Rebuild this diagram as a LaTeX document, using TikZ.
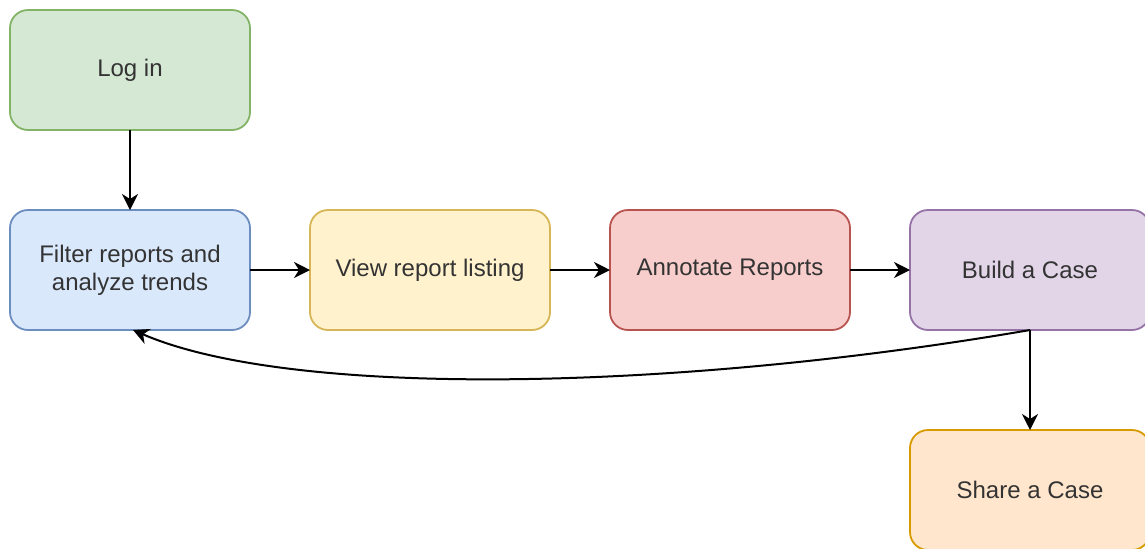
\documentclass[tikz,border=0pt]{standalone}
\usepackage{fontspec}
\setmainfont{Liberation Sans}
\usepackage{xcolor}
\usetikzlibrary{arrows.meta,positioning}

\definecolor{greenfill}{HTML}{D5E8D4}\definecolor{greenline}{HTML}{82B366}
\definecolor{bluefill}{HTML}{DAE8FC}\definecolor{blueline}{HTML}{6C8EBF}
\definecolor{yellowfill}{HTML}{FFF2CC}\definecolor{yellowline}{HTML}{D6B656}
\definecolor{redfill}{HTML}{F8CECC}\definecolor{redline}{HTML}{B85450}
\definecolor{purplefill}{HTML}{E1D5E7}\definecolor{purpleline}{HTML}{9673A6}
\definecolor{orangefill}{HTML}{FFE6CC}\definecolor{orangeline}{HTML}{D79B00}
\definecolor{textgray}{HTML}{333333}

\begin{document}
\begin{tikzpicture}[
    every node/.style={font=\fontsize{12pt}{14pt}\selectfont,text=textgray},
    stepbox/.style={rectangle,rounded corners=9pt,line width=0.9pt,outer sep=0pt,minimum width=120pt,minimum height=60pt,inner sep=2pt,align=center},
    flowarrow/.style={-{Stealth[length=8pt,width=8pt,inset=2.5pt]},line width=1pt,black},
]
\useasboundingbox (0,0) rectangle (572.5pt,-274pt);
\clip (0,0) rectangle (572.5pt,-274pt);

\node[stepbox,draw=greenline,fill=greenfill]   (login) at (65pt,-35pt) {Log in};
\node[stepbox,draw=blueline,fill=bluefill,below=40pt of login] (filter) {Filter reports and\\analyze trends};
\node[stepbox,draw=yellowline,fill=yellowfill,right=30pt of filter] (view) {View report listing};
\node[stepbox,draw=redline,fill=redfill,right=30pt of view] (annotate) {Annotate Reports};
\node[stepbox,draw=purpleline,fill=purplefill,right=30pt of annotate] (build) {Build a Case};
\node[stepbox,draw=orangeline,fill=orangefill,below=50pt of build] (share) {Share a Case};

\draw[flowarrow] (login) -- (filter);
\draw[flowarrow] (filter) -- (view);
\draw[flowarrow] (view) -- (annotate);
\draw[flowarrow] (annotate) -- (build);
\draw[flowarrow] (build) -- (share);
\draw[flowarrow] (build.south) .. controls (335pt,-196pt) and (145pt,-199pt) .. ([xshift=1.5pt]filter.south);
\end{tikzpicture}
\end{document}
